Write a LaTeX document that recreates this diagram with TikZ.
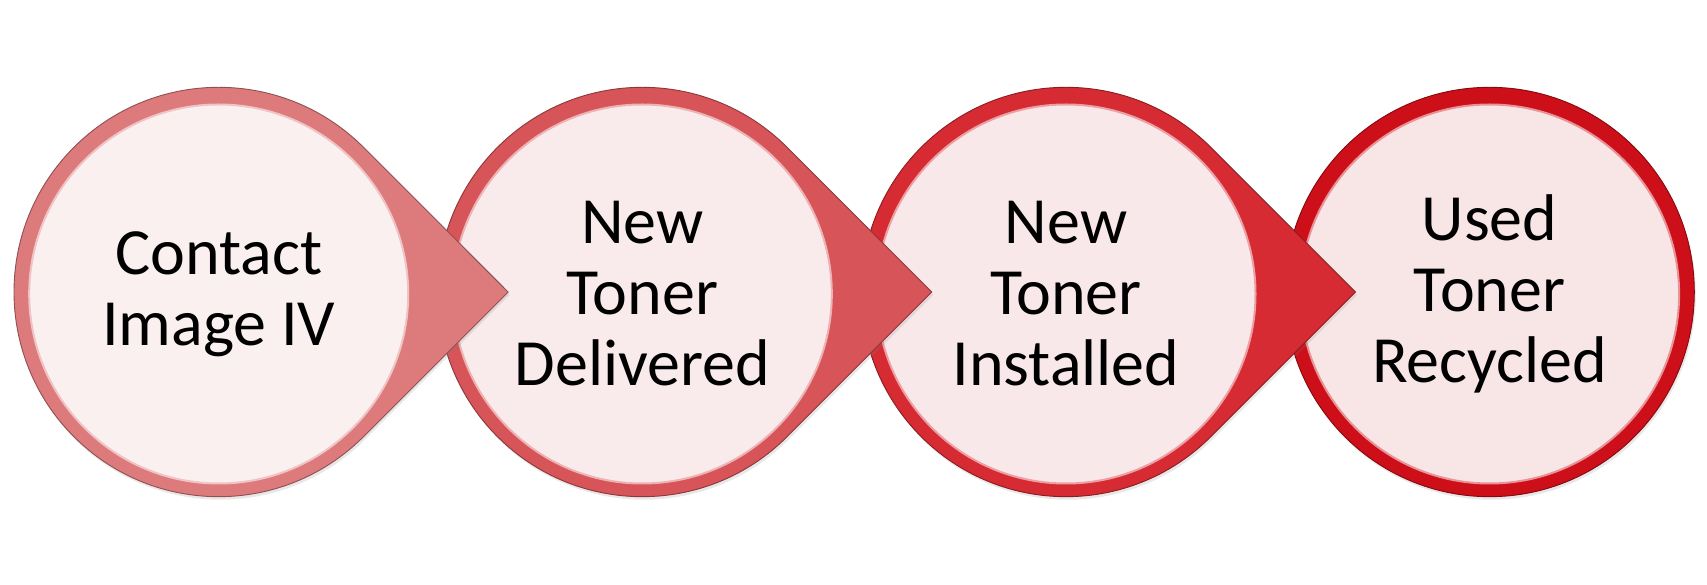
\documentclass[tikz,border=0pt]{standalone}
\usepackage{fontspec}
\setmainfont{Carlito}
\usepackage{tikz}
\usetikzlibrary{shadows}
\definecolor{ringA}{HTML}{DD7A7C}
\definecolor{ringB}{HTML}{D75459}
\definecolor{ringC}{HTML}{D62B32}
\definecolor{ringD}{HTML}{CC0F18}
\definecolor{fillA}{HTML}{FAF0F0}
\definecolor{fillB}{HTML}{F9EBEC}
\definecolor{fillC}{HTML}{F9E8E9}
\definecolor{fillD}{HTML}{F8E6E7}

\begin{document}
\begin{tikzpicture}[x=1pt,y=1pt,
  tear/.style={draw=#1!65!black,fill=#1,line width=0.9pt,line join=miter,
    drop shadow={shadow xshift=1.5pt,shadow yshift=-3pt,opacity=0.18}},
  disc/.style={circle,minimum size=379pt,inner sep=0pt,align=center,
    draw=#1!45!white,line width=2pt,text=black,
    font=\fontsize{66}{71}\selectfont}]

\useasboundingbox (0,-293) rectangle (1707,292);

% last step first, so each arrow tip lies over the next disc
\path[tear=ringD] (1489.6,0) circle[radius=204.7];
\node[disc=ringD,fill=fillD] (recycled) at (1489.6,-2) {Used\\Toner\\Recycled};

\path[tear=ringC] (1066,0) ++(45:204.7) arc[start angle=45,end angle=315,radius=204.7]
  -- ++(144.7,144.7) -- cycle;
\node[disc=ringC,fill=fillC] (installed) at (1066,-2) {New\\Toner\\Installed};

\path[tear=ringB] (642.3,0) ++(45:204.7) arc[start angle=45,end angle=315,radius=204.7]
  -- ++(144.7,144.7) -- cycle;
\node[disc=ringB,fill=fillB] (delivered) at (642.3,-2) {New\\Toner\\Delivered};

\path[tear=ringA] (218.7,0) ++(45:204.7) arc[start angle=45,end angle=315,radius=204.7]
  -- ++(144.7,144.7) -- cycle;
\node[disc=ringA,fill=fillA] (contact) at (218.7,-2) {Contact\\Image IV};
\end{tikzpicture}
\end{document}
